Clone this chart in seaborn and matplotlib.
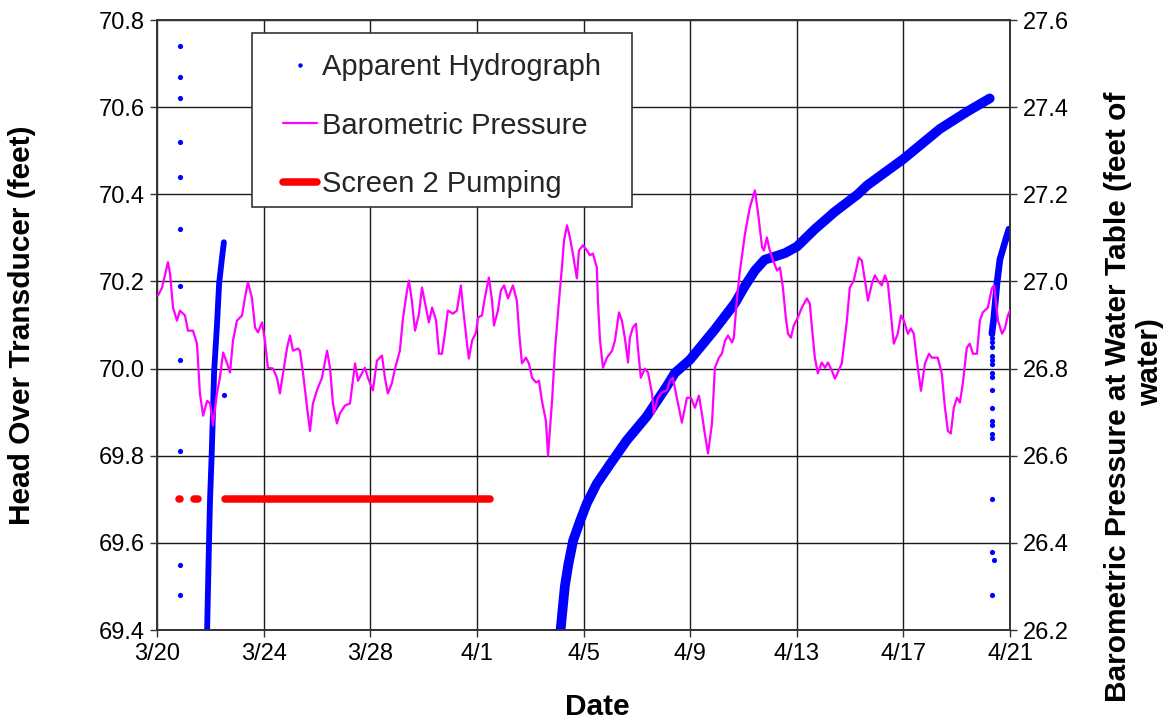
import numpy as np
import pandas as pd
import matplotlib
matplotlib.use("Agg")
import matplotlib.pyplot as plt
from matplotlib.lines import Line2D
from matplotlib.patches import Rectangle
import seaborn as sns

# Time is expressed in days since 3/20 00:00.

# Barometric pressure at the water table (feet of water)
baro_day = [0.04, 0.19, 0.41, 0.49, 0.60, 0.75, 0.86, 1.05, 1.16, 1.35, 1.50, 1.61, 1.73, 1.88,
            1.99, 2.10, 2.25, 2.36, 2.48, 2.63, 2.74, 2.85, 3.00, 3.19, 3.30, 3.41, 3.56, 3.68,
            3.79, 3.94, 4.05, 4.16, 4.35, 4.50, 4.61, 4.73, 4.88, 4.99, 5.10, 5.29, 5.36, 5.48,
            5.63, 5.74, 5.85, 6.00, 6.19, 6.38, 6.49, 6.60, 6.75, 6.86, 7.05, 7.24, 7.43, 7.54,
            7.69, 7.80, 7.91, 8.10, 8.25, 8.44, 8.55, 8.66, 8.81, 8.93, 9.11, 9.23, 9.38, 9.45,
            9.56, 9.68, 9.83, 9.94, 10.09, 10.20, 10.32, 10.47, 10.58, 10.69, 10.80, 10.91,
            11.10, 11.25, 11.40, 11.48, 11.63, 11.70, 11.82, 11.97, 12.04, 12.19, 12.30, 12.45,
            12.57, 12.64, 12.79, 12.90, 13.02, 13.17, 13.35, 13.50, 13.58, 13.69, 13.84, 13.95,
            14.07, 14.22, 14.33, 14.44, 14.59, 14.67, 14.82, 14.93, 15.04, 15.19, 15.27, 15.38,
            15.49, 15.60, 15.75, 15.83, 15.98, 16.13, 16.24, 16.35, 16.50, 16.54, 16.62, 16.73,
            16.88, 17.07, 17.18, 17.33, 17.44, 17.55, 17.67, 17.74, 17.85, 17.97, 18.04, 18.15,
            18.30, 18.42, 18.57, 18.64, 18.79, 18.94, 19.13, 19.24, 19.35, 19.50, 19.69, 19.88,
            20.03, 20.18, 20.33, 20.44, 20.55, 20.67, 20.82, 20.93, 21.08, 21.19, 21.31, 21.42,
            21.57, 21.64, 21.76, 21.87, 22.06, 22.24, 22.43, 22.55, 22.70, 22.77, 22.88, 22.96,
            23.07, 23.26, 23.37, 23.48, 23.59, 23.67, 23.78, 23.89, 24.04, 24.19, 24.38, 24.49,
            24.57, 24.68, 24.79, 24.94, 25.06, 25.17, 25.32, 25.43, 25.54, 25.69, 25.88, 25.99,
            26.14, 26.33, 26.44, 26.56, 26.67, 26.82, 26.93, 27.04, 27.19, 27.31, 27.42, 27.53,
            27.64, 27.79, 27.91, 28.02, 28.17, 28.28, 28.39, 28.54, 28.66, 28.81, 28.96, 29.07,
            29.29, 29.44, 29.56, 29.67, 29.78, 29.89, 30.01, 30.12, 30.23, 30.38, 30.49, 30.61,
            30.76, 30.87, 30.98, 31.17, 31.32, 31.40, 31.47, 31.55, 31.70, 31.81, 31.92, 32.00]
baro_ft = [26.968, 26.986, 27.044, 27.018, 26.940, 26.910, 26.933, 26.922, 26.887, 26.887, 26.857,
           26.743, 26.692, 26.726, 26.720, 26.669, 26.743, 26.779, 26.837, 26.812, 26.791, 26.864,
           26.910, 26.922, 26.963, 26.998, 26.963, 26.894, 26.883, 26.906, 26.864, 26.802, 26.800,
           26.779, 26.743, 26.789, 26.848, 26.876, 26.841, 26.846, 26.841, 26.789, 26.710, 26.657,
           26.720, 26.750, 26.779, 26.841, 26.802, 26.720, 26.674, 26.697, 26.715, 26.720, 26.812,
           26.772, 26.789, 26.802, 26.779, 26.750, 26.818, 26.830, 26.779, 26.743, 26.766, 26.800,
           26.841, 26.917, 26.979, 27.002, 26.956, 26.887, 26.926, 26.986, 26.940, 26.906, 26.940,
           26.910, 26.834, 26.834, 26.880, 26.933, 26.926, 26.933, 26.991, 26.940, 26.857, 26.823,
           26.864, 26.883, 26.917, 26.922, 26.963, 27.009, 26.956, 26.899, 26.933, 26.979, 26.991,
           26.961, 26.991, 26.956, 26.887, 26.812, 26.825, 26.812, 26.779, 26.768, 26.772, 26.726,
           26.680, 26.600, 26.726, 26.841, 26.926, 27.032, 27.094, 27.129, 27.101, 27.064, 27.007,
           27.071, 27.083, 27.071, 27.060, 27.064, 27.032, 26.956, 26.864, 26.802, 26.825, 26.841,
           26.864, 26.929, 26.910, 26.871, 26.814, 26.871, 26.894, 26.903, 26.848, 26.779, 26.800,
           26.791, 26.743, 26.697, 26.733, 26.745, 26.750, 26.772, 26.779, 26.733, 26.676, 26.733,
           26.733, 26.710, 26.738, 26.697, 26.651, 26.605, 26.674, 26.802, 26.825, 26.834, 26.864,
           26.876, 26.860, 26.871, 26.963, 27.025, 27.110, 27.170, 27.209, 27.156, 27.078, 27.071,
           27.101, 27.078, 27.055, 27.025, 27.032, 26.986, 26.917, 26.880, 26.871, 26.899, 26.917,
           26.940, 26.961, 26.949, 26.894, 26.825, 26.789, 26.814, 26.802, 26.814, 26.795, 26.777,
           26.791, 26.812, 26.910, 26.986, 27.002, 27.055, 27.048, 27.002, 26.956, 26.995, 27.014,
           27.002, 26.991, 27.014, 26.995, 26.926, 26.857, 26.880, 26.922, 26.910, 26.880, 26.892,
           26.880, 26.802, 26.749, 26.812, 26.834, 26.825, 26.825, 26.789, 26.710, 26.657, 26.651,
           26.710, 26.733, 26.722, 26.766, 26.848, 26.857, 26.834, 26.834, 26.910, 26.929, 26.940,
           26.984, 26.991, 26.956, 26.910, 26.880, 26.892, 26.922, 26.933]

# Apparent hydrograph (head over transducer, feet): continuous recovery records
recov1_day = [1.88, 1.95, 1.99, 2.05, 2.10, 2.14, 2.25, 2.33, 2.44, 2.51]
recov1_head = [69.40, 69.60, 69.70, 69.80, 69.90, 69.99, 70.10, 70.195, 70.255, 70.29]

recov2_day = [15.14, 15.30, 15.43, 15.61, 15.87, 16.12, 16.49, 16.99, 17.62, 18.37, 19.13,
              19.43, 19.99, 20.93, 21.68, 22.06, 22.43, 22.80, 23.07, 23.56, 24.01, 24.68,
              25.43, 26.29, 26.63, 27.98, 29.37, 30.40, 31.24]
recov2_head = [69.40, 69.50, 69.55, 69.605, 69.65, 69.69, 69.735, 69.78, 69.835, 69.89, 69.96,
               69.99, 70.02, 70.09, 70.15, 70.19, 70.225, 70.25, 70.255, 70.265, 70.28, 70.32,
               70.36, 70.40, 70.42, 70.48, 70.55, 70.59, 70.62]

recov3_day = [31.32, 31.40, 31.51, 31.62, 31.81, 31.96]
recov3_head = [70.08, 70.12, 70.195, 70.25, 70.29, 70.32]

# Isolated hydrograph readings while the head was changing quickly
sparse_day = [0.86] * 11 + [2.51] + [31.32] * 19 + [31.40]
sparse_head = [70.74, 70.67, 70.62, 70.52, 70.44, 70.32, 70.19, 70.02, 69.81, 69.55, 69.48,
               69.94,
               70.10, 70.08, 70.07, 70.06, 70.05, 70.03, 70.02, 70.01, 69.99, 69.98, 69.95,
               69.91, 69.88, 69.87, 69.85, 69.84, 69.70, 69.58, 69.48, 69.56]

# Screen 2 pumping periods (start/end day), drawn at a fixed head level
pump_start = [0.84, 1.37, 2.55]
pump_end = [0.85, 1.54, 12.51]
pump_level = 69.70

date_ticks = [0, 4, 8, 12, 16, 20, 24, 28, 32]
date_labels = ["3/20", "3/24", "3/28", "4/1", "4/5", "4/9", "4/13", "4/17", "4/21"]
head_ticks = [69.4, 69.6, 69.8, 70.0, 70.2, 70.4, 70.6, 70.8]
baro_ticks = [26.2, 26.4, 26.6, 26.8, 27.0, 27.2, 27.4, 27.6]

BLUE = "#0000ff"
MAGENTA = "#ff00ff"
RED = "#ff0000"

sns.set_theme(style="white")
plt.rcParams["font.family"] = ["Liberation Sans", "DejaVu Sans"]

fig = plt.figure(figsize=(11.66, 7.21), dpi=100)
ax = fig.add_axes([0.13465, 0.12621, 0.73156, 0.84605])
ax2 = ax.twinx()

# hydrograph: dense records as a thick band, isolated readings as dots
for d, h, w in [(recov1_day, recov1_head, 4.2), (recov2_day, recov2_head, 7.0),
                (recov3_day, recov3_head, 4.8)]:
    sns.lineplot(x=d, y=h, ax=ax, color=BLUE, lw=w, sort=False, estimator=None,
                 solid_capstyle="round", solid_joinstyle="round", zorder=3)
sns.scatterplot(x=sparse_day, y=sparse_head, ax=ax, color=BLUE, s=14, linewidth=0, zorder=3)

# pumping periods
for s, e in zip(pump_start, pump_end):
    ax.plot([s, e], [pump_level, pump_level], color=RED, lw=5.4, solid_capstyle="round", zorder=3)

# barometric pressure on the secondary axis
sns.lineplot(x=baro_day, y=baro_ft, ax=ax2, color=MAGENTA, lw=1.6, sort=False, estimator=None,
             zorder=3)

ax.set_xlim(0, 32)
ax.set_ylim(69.4, 70.8)
ax2.set_ylim(26.2, 27.6)
ax.set_xticks(date_ticks)
ax.set_xticklabels(date_labels)
ax.set_yticks(head_ticks)
ax.set_yticklabels([f"{v:.1f}" for v in head_ticks])
ax2.set_yticks(baro_ticks)
ax2.set_yticklabels([f"{v:.1f}" for v in baro_ticks])

ax.grid(True, color="#1a1a1a", lw=1.0)
ax2.grid(False)
ax.set_axisbelow(True)

for a in (ax, ax2):
    for sp in a.spines.values():
        sp.set_color("#333333")
        sp.set_linewidth(1.2)
ax.tick_params(axis="both", which="major", bottom=True, left=True, direction="out", length=5,
               width=1, color="#333333", labelsize=17, pad=4, labelcolor="black")
ax2.tick_params(axis="y", right=True, direction="out", length=5, width=1, color="#333333",
                labelsize=17, pad=4, labelcolor="black")

ax.set_xlabel("")
ax.set_ylabel("")
ax2.set_ylabel("")

lab = dict(fontsize=21.5, fontweight="bold", color="black")
fig.text(22 / 1166, 1 - 325 / 721, "Head Over Transducer (feet)", rotation=90,
         ha="center", va="center", **lab)
fig.text(597 / 1166, 1 - 707 / 721, "Date", ha="center", va="center", **lab)
fig.text(1118 / 1166, 1 - 397 / 721, "Barometric Pressure at Water Table (feet of",
         rotation=90, ha="center", va="center", **lab)
fig.text(1150 / 1166, 1 - 362 / 721, "water)", rotation=90, ha="center", va="center", **lab)

# legend with its own frame
ax2.add_patch(Rectangle((0.1114, 0.6934), 0.4455, 0.2852, transform=ax2.transAxes,
                        facecolor="white", edgecolor="#333333", lw=1.2, zorder=6))
handles = [
    Line2D([], [], ls="none", marker="o", ms=3.2, color=BLUE, mew=0),
    Line2D([], [], color=MAGENTA, lw=1.6),
    Line2D([], [], color=RED, lw=5.4, solid_capstyle="round"),
]
labels = ["Apparent Hydrograph", "Barometric Pressure", "Screen 2 Pumping"]
leg = ax2.legend(handles, labels, loc="upper left", bbox_to_anchor=(0.1477, 0.946),
                 frameon=False, fontsize=21, handlelength=1.15, handletextpad=0.18,
                 labelspacing=1.05, borderpad=0, borderaxespad=0)
leg.set_zorder(7)

fig.savefig("out.png", dpi=100)
